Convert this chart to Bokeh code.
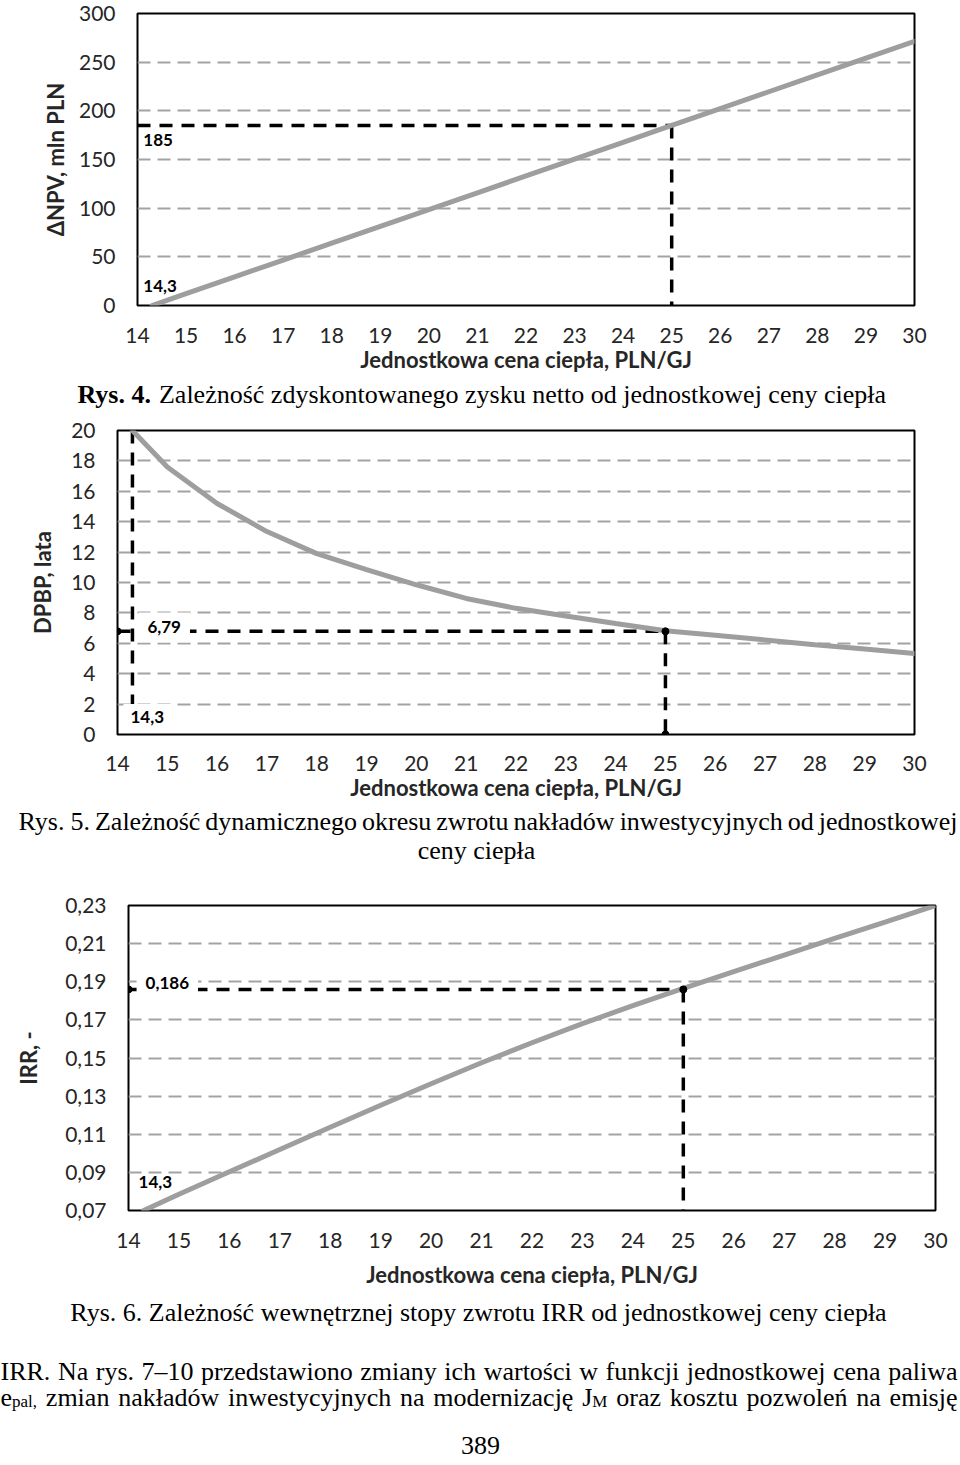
from bokeh.plotting import figure
from bokeh.models import Label, FixedTicker, CustomJSTickFormatter, Range1d
from bokeh.layouts import column
from bokeh.embed import file_html
from bokeh.resources import INLINE

# ---------------- data ----------------
price = [14.3, 15, 16, 17, 18, 19, 20, 21, 22, 23, 24, 25, 26, 27, 28, 29, 30]
delta_npv = [0.0, 12.1, 29.4, 46.7, 64.0, 81.3, 98.6, 115.8, 133.1, 150.4,
             167.7, 185.0, 202.3, 219.6, 236.9, 254.2, 271.5]
dpbp = [20.0, 17.6, 15.2, 13.35, 11.9, 10.85, 9.85, 8.95, 8.3, 7.8,
        7.3, 6.82, 6.53, 6.22, 5.91, 5.62, 5.33]
irr = [0.070, 0.0785, 0.0903, 0.1020, 0.1137, 0.1252, 0.1365, 0.1475, 0.1580,
       0.1680, 0.1775, 0.1865, 0.1953, 0.2040, 0.2127, 0.2213, 0.2300]

x_ticks = [14, 15, 16, 17, 18, 19, 20, 21, 22, 23, 24, 25, 26, 27, 28, 29, 30]
npv_ticks = [0, 50, 100, 150, 200, 250, 300]
dpbp_ticks = [0, 2, 4, 6, 8, 10, 12, 14, 16, 18, 20]
irr_ticks = [0.07, 0.09, 0.11, 0.13, 0.15, 0.17, 0.19, 0.21, 0.23]

breakeven_price = 14.3
design_price = 25
npv_at_design = 185
dpbp_at_design = 6.79
irr_at_design = 0.186

x_title = "Jednostkowa cena ciepła, PLN/GJ"
cap1_bold = "Rys. 4."
cap1_rest = "Zależność zdyskontowanego zysku netto od jednostkowej ceny ciepła"
cap2_line1 = "Rys. 5. Zależność dynamicznego okresu zwrotu nakładów inwestycyjnych od jednostkowej"
cap2_line2 = "ceny ciepła"
cap3 = "Rys. 6. Zależność wewnętrznej stopy zwrotu IRR od jednostkowej ceny ciepła"
para1 = "IRR. Na rys. 7–10 przedstawiono zmiany ich wartości w funkcji jednostkowej cena paliwa"
para2 = [[("e", "n"), ("pal,", "s")], [("zmian", "n")], [("nakładów", "n")],
         [("inwestycyjnych", "n")], [("na", "n")], [("modernizację", "n")],
         [("J", "n"), ("M", "s")], [("oraz", "n")], [("kosztu", "n")],
         [("pozwoleń", "n")], [("na", "n")], [("emisję", "n")]]
page_no = "389"

# ---------------- styling ----------------
W = 960
SANS = "Lato"
SERIF = "Liberation Serif"
GREY_LINE = "#9e9e9e"
GRID = "#a3a3a3"
TXT = "#262626"

# Times (Liberation Serif) advance widths per 1000 em
TW = {" ": 250, ",": 250, ".": 250, "-": 333, "–": 500, "/": 278}
for d in "0123456789":
    TW[d] = 500
TW.update(dict(A=722, B=667, C=667, D=722, E=611, F=556, G=722, H=722, I=333, J=389,
               K=722, L=611, M=889, N=722, O=722, P=556, R=667, S=556, T=611, W=944, Z=611))
TW.update(dict(a=444, b=500, c=444, d=500, e=444, f=333, g=500, h=500, i=278, j=278,
               k=500, l=278, m=778, n=500, o=500, p=500, q=500, r=333, s=389, t=278,
               u=500, v=500, w=722, x=500, y=500, z=444))
TW.update({"ą": 444, "ć": 444, "ę": 444, "ł": 278, "ń": 500, "ó": 500, "ś": 389,
           "ż": 444, "ź": 444})


def tw(s, size):
    return sum(TW.get(c, 500) for c in s) * size / 1000.0


def put(p, geom, text, px, py, size, align="left", style="normal", font=SERIF,
        color="black"):
    """Place a text whose visual centre is at page position (px, py)."""
    fig_top, ml, mt, fh = geom
    sx = px - ml
    sy = (mt + fh) - (py - 1 - fig_top)
    p.add_layout(Label(x=sx, y=sy, x_units="screen", y_units="screen", text=text,
                       text_font=font, text_font_size=f"{size}px", text_font_style=style,
                       text_align=align, text_baseline="alphabetic", text_color=color))


def justify(p, geom, words, y_mid, x0, x1, size, sub_size=None, sub_drop=5):
    sub_size = sub_size or size * 0.64
    widths = []
    for w in words:
        widths.append(sum(tw(t, size if k == "n" else sub_size) for t, k in w))
    gap = (x1 - x0 - sum(widths)) / (len(words) - 1)
    x = x0
    for w, wd in zip(words, widths):
        cx = x
        for t, k in w:
            s = size if k == "n" else sub_size
            put(p, geom, t, cx, y_mid + (0 if k == "n" else sub_drop), round(s, 1))
            cx += tw(t, s)
        x += wd + gap


def textfig(height, top):
    p = figure(width=W, height=height, x_range=Range1d(0, 1), y_range=Range1d(0, 1),
               output_backend="svg", toolbar_location=None, x_axis_type=None,
               y_axis_type=None, min_border=0, frame_align=False)
    p.outline_line_color = None
    p.background_fill_color = "white"
    p.border_fill_color = "white"
    return p, (top, 0, 0, height)


def chart(height, ml, mr, mt, mb, y_lo, y_hi, y_ticks, y_title,
          y_title_standoff, x_title_standoff, y_formatter=None, x_label_standoff=22):
    p = figure(width=W, height=height, x_range=Range1d(14, 30),
               y_range=Range1d(y_lo, y_hi), output_backend="svg",
               toolbar_location=None, min_border_left=ml, min_border_right=mr,
               min_border_top=mt, min_border_bottom=mb, frame_align=False)
    p.background_fill_color = "white"
    p.border_fill_color = "white"
    p.outline_line_color = "black"
    p.outline_line_width = 2
    p.outline_line_alpha = 1
    p.xaxis.ticker = FixedTicker(ticks=x_ticks)
    p.yaxis.ticker = FixedTicker(ticks=y_ticks)
    p.ygrid.ticker = FixedTicker(ticks=y_ticks)
    if y_formatter is not None:
        p.yaxis.formatter = y_formatter
    p.xgrid.visible = False
    p.ygrid.grid_line_color = GRID
    p.ygrid.grid_line_dash = "13 7"
    p.ygrid.grid_line_width = 2
    for ax in (p.xaxis[0], p.yaxis[0]):
        ax.axis_line_color = None
        ax.major_tick_line_color = None
        ax.minor_tick_line_color = None
        ax.major_tick_in = 0
        ax.major_tick_out = 0
        ax.minor_tick_in = 0
        ax.minor_tick_out = 0
        ax.major_label_text_font = SANS
        ax.major_label_text_font_size = "21px"
        ax.major_label_text_color = TXT
        ax.axis_label_text_font = SANS
        ax.axis_label_text_font_style = "bold"
        ax.axis_label_text_font_size = "22px"
        ax.axis_label_text_color = TXT
    p.xaxis.major_label_standoff = x_label_standoff
    p.yaxis.major_label_standoff = 22
    p.xaxis.axis_label = x_title
    p.yaxis.axis_label = y_title
    p.xaxis.axis_label_standoff = x_title_standoff
    p.yaxis.axis_label_standoff = y_title_standoff
    return p


def annot(p, text, x, y, bg=None, pad=0, size=17):
    kw = {}
    if bg:
        kw = dict(background_fill_color=bg, background_fill_alpha=1, padding=pad)
    p.add_layout(Label(x=x, y=y, text=text, text_font=SANS, text_font_style="bold",
                       text_font_size=f"{size}px", text_color="black", text_align="left",
                       text_baseline="middle", **kw))


def fmt(v):
    return str(v).replace(".", ",")


REF = dict(line_color="black", line_width=3.5, line_dash="13 9")

# ---------------- chart 1: dNPV ----------------
p1 = chart(380, 137, 46, 13, 75, 0, 300, npv_ticks, "ΔNPV, mln PLN", 7, 0)
p1.line([x_ticks[0], design_price], [npv_at_design, npv_at_design], **REF)
p1.line([design_price, design_price], [npv_at_design, npv_ticks[0]], **REF)
p1.line(price, delta_npv, line_color=GREY_LINE, line_width=5, line_cap="round")
annot(p1, fmt(npv_at_design), 14.12, 170)
annot(p1, fmt(breakeven_price), 14.12, 20.4)

c1, gc1 = textfig(30, 380)
put(c1, gc1, cap1_bold, 77, 395, 26, style="bold")
put(c1, gc1, cap1_rest, 77 + tw(cap1_bold + " ", 26) + 2, 395, 26)

# ---------------- chart 2: DPBP ----------------
p2 = chart(396, 117, 46, 20, 72, 0, 20, dpbp_ticks, "DPBP, lata", 12, 0,
           x_label_standoff=21)
p2.line([breakeven_price, breakeven_price], [dpbp[0], dpbp_ticks[0]], **REF)
p2.line([x_ticks[0], design_price], [dpbp_at_design, dpbp_at_design], **REF)
p2.line([design_price, design_price], [dpbp_at_design, dpbp_ticks[0]], **REF)
p2.line(price, dpbp, line_color=GREY_LINE, line_width=5, line_cap="round")
p2.scatter([x_ticks[0], design_price, design_price],
           [dpbp_at_design, dpbp_at_design, dpbp_ticks[0]], size=7, color="black")
annot(p2, fmt(dpbp_at_design), 14.42, 7.04, bg="white", pad=9)
annot(p2, fmt(breakeven_price), 14.12, 1.15, bg="white", pad=7)

c2, gc2 = textfig(64, 806)
justify(c2, gc2, [[(w, "n")] for w in cap2_line1.split(" ")], 822, 18, 957, 26)
put(c2, gc2, cap2_line2, 476, 851, 26, align="center")

# ---------------- chart 3: IRR ----------------
irr_fmt = CustomJSTickFormatter(code="return tick.toFixed(2).replace('.', ',');")
p3 = chart(425, 128, 25, 35, 85, 0.07, 0.23, irr_ticks, "IRR, -", 20, 10,
           y_formatter=irr_fmt)
p3.line([x_ticks[0], design_price], [irr_at_design, irr_at_design], **REF)
p3.line([design_price, design_price], [irr_at_design, irr_ticks[0]], **REF)
p3.line(price, irr, line_color=GREY_LINE, line_width=5, line_cap="round")
p3.scatter([x_ticks[0], design_price], [irr_at_design, irr_at_design], size=7, color="black")
annot(p3, fmt(irr_at_design), 14.16, 0.1896, bg="white", pad=9)
annot(p3, fmt(breakeven_price), 14.2, 0.0847)

# ---------------- text block ----------------
p4, g4 = textfig(169, 1295)
put(p4, g4, cap3, 478, 1313, 26, align="center")
justify(p4, g4, [[(w, "n")] for w in para1.split(" ")], 1372, 0, 957, 26)
justify(p4, g4, para2, 1398, 0, 957, 26, sub_size=17, sub_drop=4)
put(p4, g4, page_no, 480, 1446, 26, align="center")

layout = column(p1, c1, p2, c2, p3, p4, spacing=0)
open("out.html", "w").write(file_html(layout, INLINE))
